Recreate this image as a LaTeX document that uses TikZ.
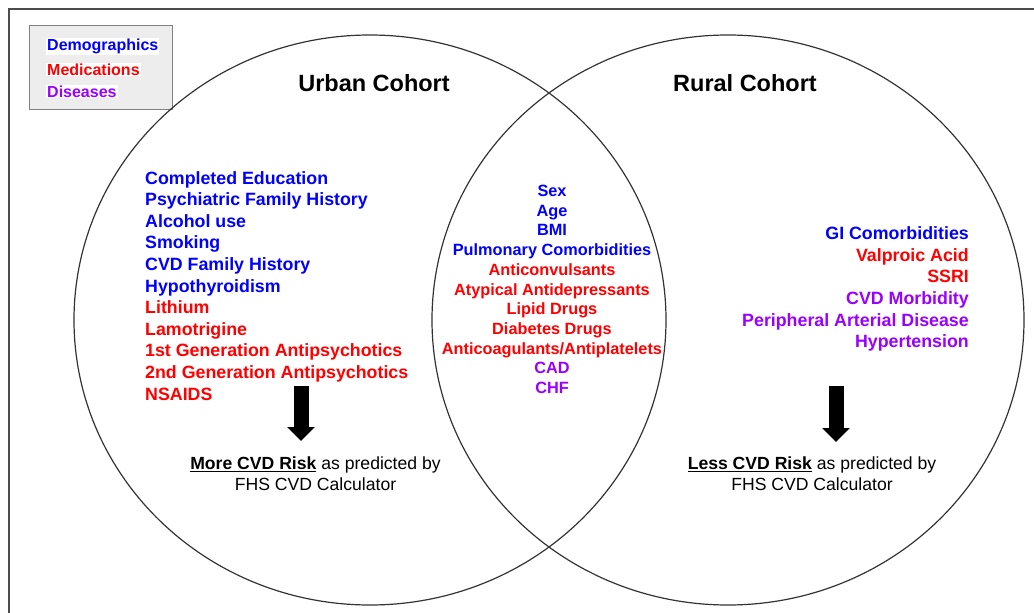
\documentclass[tikz,border=0pt]{standalone}
\usepackage{fontspec}
\setmainfont{Liberation Sans}
\usetikzlibrary{positioning,shapes,arrows.meta}
\definecolor{demoblue}{RGB}{0,0,255}
\definecolor{medred}{RGB}{255,0,0}
\definecolor{dispurple}{RGB}{153,0,255}

\begin{document}
\begin{tikzpicture}[x=1pt,y=-1pt]
\tikzset{
    venn/.style={ellipse, draw=black!80, line width=1.2pt, minimum width=592pt, minimum height=570pt, inner sep=0pt},
    cohort/.style={font=\fontsize{23.5}{28}\selectfont\bfseries, inner sep=0pt},
    itemlist/.style={font=\fontsize{17.8}{21.6}\selectfont\bfseries, inner sep=0pt},
    shared/.style={font=\fontsize{16.3}{19.7}\selectfont\bfseries, inner sep=0pt, align=center},
    legitem/.style={font=\fontsize{16}{19}\selectfont\bfseries, fill=white, inner sep=1pt, anchor=west},
    risk/.style={font=\fontsize{17.6}{21}\selectfont, align=center, inner sep=0pt},
    bigarrow/.style={line width=15pt, -{Triangle[width=27pt,length=14pt]}}
}
\useasboundingbox (0,0) rectangle (1034,613);
\draw[black!70, line width=1.2pt] (9,613) -- (9,9) -- (1034,9);

% legend
\node[draw=black!50, fill=black!7, line width=1pt, minimum width=143pt, minimum height=84pt, anchor=north west] (legend) at (29,25) {};
\node[legitem, text=demoblue] (legdemo) at (46,46.5) {Demographics};
\node[legitem, text=medred] (legmed) at (46,69.5) {Medications};
\node[legitem, text=dispurple] (legdis) at (46,91.5) {Diseases};

% the two cohorts
\node[venn] (urban) at (370,320) {};
\node[venn] (rural) at (728,320) {};
\node[cohort] (urbantitle) at (374,83) {Urban Cohort};
\node[cohort] (ruraltitle) at (745,83) {Rural Cohort};

\node[itemlist, align=left, anchor=north west] (urbanlist) at (145,171) {%
\textcolor{demoblue}{Completed Education}\\
\textcolor{demoblue}{Psychiatric Family History}\\
\textcolor{demoblue}{Alcohol use}\\
\textcolor{demoblue}{Smoking}\\
\textcolor{demoblue}{CVD Family History}\\
\textcolor{demoblue}{Hypothyroidism}\\
\textcolor{medred}{Lithium}\\
\textcolor{medred}{Lamotrigine}\\
\textcolor{medred}{1st Generation Antipsychotics}\\
\textcolor{medred}{2nd Generation Antipsychotics}\\
\textcolor{medred}{NSAIDS}};

\node[shared, anchor=north] (sharedlist) at (552,185) {%
\textcolor{demoblue}{Sex}\\
\textcolor{demoblue}{Age}\\
\textcolor{demoblue}{BMI}\\
\textcolor{demoblue}{Pulmonary Comorbidities}\\
\textcolor{medred}{Anticonvulsants}\\
\textcolor{medred}{Atypical Antidepressants}\\
\textcolor{medred}{Lipid Drugs}\\
\textcolor{medred}{Diabetes Drugs}\\
\textcolor{medred}{Anticoagulants/Antiplatelets}\\
\textcolor{dispurple}{CAD}\\
\textcolor{dispurple}{CHF}};

\node[itemlist, align=right, anchor=north east] (rurallist) at (969,226.5) {%
\textcolor{demoblue}{GI Comorbidities}\\
\textcolor{medred}{Valproic Acid}\\
\textcolor{medred}{SSRI}\\
\textcolor{dispurple}{CVD Morbidity}\\
\textcolor{dispurple}{Peripheral Arterial Disease}\\
\textcolor{dispurple}{Hypertension}};

% risk outcome
\node[risk, anchor=north] (urbanrisk) at (315.5,457) {\underline{\textbf{More CVD Risk}} as predicted by\\FHS CVD Calculator};
\node[risk, anchor=north] (ruralrisk) at (812,457) {\underline{\textbf{Less CVD Risk}} as predicted by\\FHS CVD Calculator};

\coordinate (urbanarrtop) at (301,386);
\coordinate (urbanarrtip) at (301,441);
\coordinate (ruralarrtop) at (836,386);
\coordinate (ruralarrtip) at (836,442);
\draw[bigarrow] (urbanarrtop) -- (urbanarrtip);
\draw[bigarrow] (ruralarrtop) -- (ruralarrtip);
\end{tikzpicture}
\end{document}
